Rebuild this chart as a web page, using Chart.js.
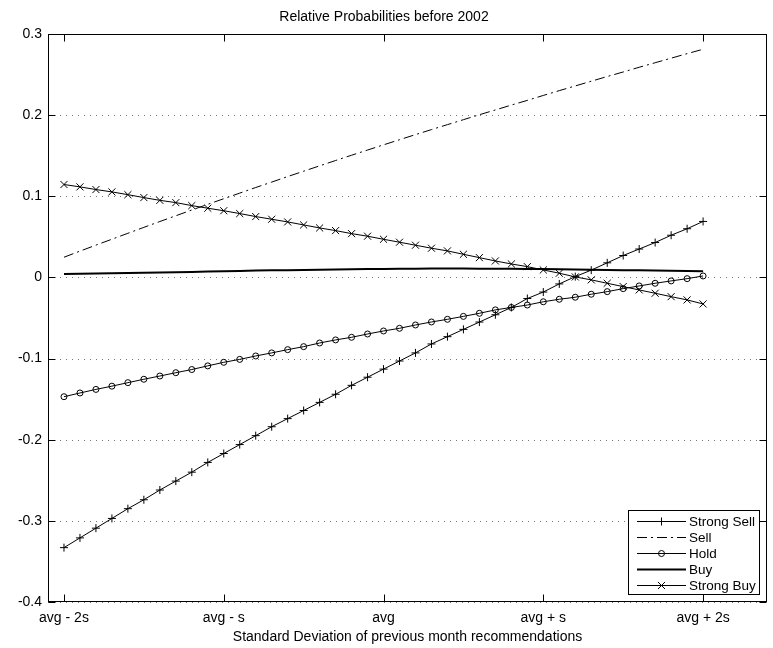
<!DOCTYPE html>
<html>
<head>
<meta charset="utf-8">
<title>Relative Probabilities before 2002</title>
<script src="https://cdn.jsdelivr.net/npm/chart.js@4/dist/chart.umd.min.js"></script>
<style>
  html, body { margin: 0; padding: 0; background: #fff; }
  #wrap { width: 773px; height: 648px; }
</style>
</head>
<body>
<div id="wrap"><canvas id="chart" width="773" height="648"></canvas></div>
<script>
// steps of the x axis, in standard deviations from the average
const xSteps = [-2.0, -1.9, -1.8, -1.7, -1.6, -1.5, -1.4, -1.3, -1.2, -1.1,
  -1.0, -0.9, -0.8, -0.7, -0.6, -0.5, -0.4, -0.3, -0.2, -0.1,
  0.0, 0.1, 0.2, 0.3, 0.4, 0.5, 0.6, 0.7, 0.8, 0.9,
  1.0, 1.1, 1.2, 1.3, 1.4, 1.5, 1.6, 1.7, 1.8, 1.9, 2.0];

const strongSell = [-0.333, -0.321, -0.309, -0.297, -0.285, -0.274, -0.262, -0.251, -0.240, -0.228,
  -0.217, -0.206, -0.195, -0.184, -0.174, -0.164, -0.154, -0.144, -0.133, -0.123,
  -0.113, -0.103, -0.093, -0.082, -0.073, -0.064, -0.055, -0.046, -0.037, -0.026,
  -0.018, -0.008, 0.001, 0.009, 0.018, 0.027, 0.035, 0.043, 0.052, 0.060, 0.069];

const sell = [0.0249, 0.0324, 0.0398, 0.0471, 0.0544, 0.0617, 0.0689, 0.0760, 0.0831, 0.0901,
  0.0970, 0.1039, 0.1108, 0.1175, 0.1243, 0.1309, 0.1375, 0.1441, 0.1506, 0.1570,
  0.1634, 0.1697, 0.1760, 0.1822, 0.1883, 0.1944, 0.2005, 0.2064, 0.2124, 0.2182,
  0.2243, 0.2302, 0.2360, 0.2418, 0.2476, 0.2532, 0.2590, 0.2646, 0.2702, 0.2758, 0.2812];

const hold = [-0.147, -0.1424, -0.138, -0.134, -0.1297, -0.1255, -0.1215, -0.1174, -0.1135, -0.109,
  -0.1046, -0.101, -0.0968, -0.093, -0.089, -0.0853, -0.0808, -0.077, -0.0738, -0.0697,
  -0.066, -0.0627, -0.0586, -0.0549, -0.0516, -0.048, -0.0442, -0.040, -0.037, -0.034,
  -0.030, -0.0269, -0.0244, -0.0207, -0.0175, -0.0138, -0.0105, -0.0072, -0.0043, -0.0015, 0.0018];

const buy = [0.0043, 0.0046, 0.0049, 0.0052, 0.0055, 0.0058, 0.0061, 0.0064, 0.0067, 0.0072,
  0.0076, 0.0080, 0.0084, 0.0087, 0.0090, 0.0093, 0.0096, 0.0099, 0.0101, 0.0103,
  0.0105, 0.0107, 0.0108, 0.0109, 0.0110, 0.0110, 0.0108, 0.0107, 0.0106, 0.0105,
  0.0103, 0.0101, 0.0099, 0.0096, 0.0093, 0.0090, 0.0087, 0.0084, 0.0081, 0.0078, 0.0075];

const strongBuy = [0.1145, 0.1116, 0.1083, 0.1054, 0.102, 0.0984, 0.095, 0.0922, 0.0885, 0.0853,
  0.0822, 0.0787, 0.075, 0.0717, 0.0684, 0.0647, 0.061, 0.0577, 0.054, 0.0508,
  0.047, 0.0434, 0.0397, 0.036, 0.0327, 0.0285, 0.0244, 0.0203, 0.0166, 0.0133,
  0.0092, 0.0052, 0.0006, -0.003, -0.0072, -0.0113, -0.0154, -0.0195, -0.0237, -0.0277, -0.0327];

const xTickValues = [-2, -1, 0, 1, 2];
const xTickLabels = ['avg - 2s', 'avg - s', 'avg', 'avg + s', 'avg + 2s'];
const yTickValues = [-0.4, -0.3, -0.2, -0.1, 0, 0.1, 0.2, 0.3];
const yTickLabels = ['-0.4', '-0.3', '-0.2', '-0.1', '0', '0.1', '0.2', '0.3'];

const FONT = '"Liberation Sans", Arial, Helvetica, sans-serif';

function pts(values) {
  return values.map((v, i) => ({ x: xSteps[i], y: v }));
}

// little marker painter, used by the legend
function marker(ctx, style, x, y, r) {
  ctx.beginPath();
  if (style === 'cross') {
    ctx.moveTo(x - r, y); ctx.lineTo(x + r, y);
    ctx.moveTo(x, y - r); ctx.lineTo(x, y + r);
  } else if (style === 'crossRot') {
    const d = r * Math.SQRT1_2;
    ctx.moveTo(x - d, y - d); ctx.lineTo(x + d, y + d);
    ctx.moveTo(x - d, y + d); ctx.lineTo(x + d, y - d);
  } else if (style === 'circle') {
    ctx.arc(x, y, r, 0, Math.PI * 2);
  }
  ctx.stroke();
}

const matlabAxes = {
  id: 'matlabAxes',
  beforeDatasetsDraw(chart) {
    const { ctx, chartArea: a, scales: { y } } = chart;
    ctx.save();
    ctx.strokeStyle = '#777';
    ctx.lineWidth = 1;
    ctx.setLineDash([1, 5]);
    yTickValues.forEach(v => {
      const py = Math.round(y.getPixelForValue(v)) + 0.5;
      ctx.beginPath();
      ctx.moveTo(a.left, py);
      ctx.lineTo(a.right, py);
      ctx.stroke();
    });
    ctx.restore();
  },
  afterDraw(chart) {
    const { ctx, chartArea: a, scales: { x, y } } = chart;
    const L = Math.round(a.left) + 0.5, R = Math.round(a.right) - 0.5;
    const T = Math.round(a.top) + 0.5, B = Math.round(a.bottom) - 0.5;
    ctx.save();
    ctx.strokeStyle = '#000';
    ctx.lineWidth = 1;
    ctx.setLineDash([]);
    ctx.strokeRect(L, T, R - L, B - T);
    const tl = 7;
    ctx.beginPath();
    xTickValues.forEach(v => {
      const px = Math.round(x.getPixelForValue(v)) + 0.5;
      ctx.moveTo(px, T); ctx.lineTo(px, T + tl);
      ctx.moveTo(px, B); ctx.lineTo(px, B - tl);
    });
    yTickValues.forEach(v => {
      const py = Math.round(y.getPixelForValue(v)) + 0.5;
      ctx.moveTo(L, py); ctx.lineTo(L + tl, py);
      ctx.moveTo(R, py); ctx.lineTo(R - tl, py);
    });
    ctx.stroke();

    // legend box in the lower right corner
    const bx = 628.5, by = 510.5, bw = 131, bh = 84;
    ctx.fillStyle = '#fff';
    ctx.fillRect(bx, by, bw, bh);
    ctx.strokeRect(bx, by, bw, bh);
    ctx.font = '13.5px ' + FONT;
    ctx.textBaseline = 'middle';
    ctx.textAlign = 'left';
    chart.data.datasets.forEach((ds, i) => {
      const ry = Math.round(by + 10 + i * 16.1) + 0.5;
      ctx.strokeStyle = '#000';
      ctx.lineWidth = ds.borderWidth;
      ctx.setLineDash(ds.borderDash || []);
      ctx.beginPath();
      ctx.moveTo(637, ry); ctx.lineTo(686, ry);
      ctx.stroke();
      ctx.setLineDash([]);
      ctx.lineWidth = 1;
      if (ds.pointRadius > 0) marker(ctx, ds.pointStyle, 661.5, ry, ds.pointRadius);
      ctx.fillStyle = '#000';
      ctx.fillText(ds.label, 689, ry + 1);
    });
    ctx.restore();
  }
};

const common = {
  borderColor: '#000',
  backgroundColor: 'transparent',
  pointBorderColor: '#000',
  pointBackgroundColor: 'transparent',
  pointBorderWidth: 1,
  borderWidth: 1,
  tension: 0,
  fill: false
};

new Chart(document.getElementById('chart'), {
  type: 'line',
  data: {
    datasets: [
      { ...common, label: 'Strong Sell', data: pts(strongSell), pointStyle: 'cross', pointRadius: 4 },
      { ...common, label: 'Sell', data: pts(sell), borderDash: [10, 4, 2, 4], pointRadius: 0 },
      { ...common, label: 'Hold', data: pts(hold), pointStyle: 'circle', pointRadius: 3 },
      { ...common, label: 'Buy', data: pts(buy), borderWidth: 2, pointRadius: 0 },
      { ...common, label: 'Strong Buy', data: pts(strongBuy), pointStyle: 'crossRot', pointRadius: 5 }
    ]
  },
  options: {
    responsive: false,
    animation: false,
    devicePixelRatio: 1,
    layout: { padding: { left: 0, right: 5, top: 0, bottom: 0 } },
    plugins: {
      legend: { display: false },
      tooltip: { enabled: false },
      title: {
        display: true,
        text: 'Relative Probabilities before 2002',
        color: '#000',
        font: { family: FONT, size: 14, weight: 'normal', lineHeight: 1.2 },
        padding: { top: 8.3, bottom: 8.9 }
      }
    },
    scales: {
      x: {
        type: 'linear',
        min: -2.1,
        max: 2.4,
        grid: { display: false, drawTicks: false },
        border: { display: false },
        afterBuildTicks: s => { s.ticks = xTickValues.map(v => ({ value: v })); },
        afterFit: s => { s.height = 46; },
        ticks: {
          color: '#000',
          padding: 7.6,
          maxRotation: 0,
          autoSkip: false,
          font: { family: FONT, size: 14 },
          callback: v => xTickLabels[xTickValues.indexOf(v)]
        },
        title: {
          display: true,
          text: 'Standard Deviation of previous month recommendations',
          color: '#000',
          font: { family: FONT, size: 14 },
          padding: { top: 0, bottom: 2.6 }
        }
      },
      y: {
        min: -0.4,
        max: 0.3,
        grid: { display: false, drawTicks: false },
        border: { display: false },
        afterBuildTicks: s => { s.ticks = yTickValues.map(v => ({ value: v })); },
        afterFit: s => { s.width = 48; },
        ticks: {
          color: '#000',
          padding: 6,
          autoSkip: false,
          font: { family: FONT, size: 14 },
          callback: v => yTickLabels[yTickValues.findIndex(t => Math.abs(t - v) < 1e-9)]
        }
      }
    }
  },
  plugins: [matlabAxes]
});
</script>
</body>
</html>
